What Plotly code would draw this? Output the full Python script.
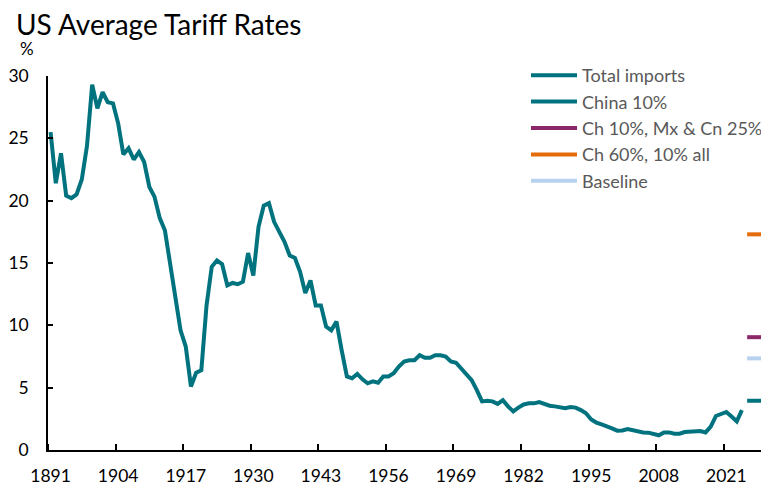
import plotly.graph_objects as go

years = list(range(1891, 2025))
total_imports = [
    25.5, 21.4, 23.8, 20.4, 20.2, 20.5, 21.7, 24.4, 29.3, 27.4,   # 1891-1900
    28.7, 27.9, 27.8, 26.2, 23.7, 24.2, 23.3, 23.9, 23.1, 21.1,   # 1901-1910
    20.3, 18.6, 17.6, 14.9, 12.5, 9.6, 8.3, 5.1, 6.2, 6.4,        # 1911-1920
    11.6, 14.7, 15.2, 14.9, 13.2, 13.4, 13.3, 13.5, 15.8, 14.0,   # 1921-1930
    17.9, 19.6, 19.8, 18.3, 17.5, 16.7, 15.6, 15.4, 14.3, 12.6,   # 1931-1940
    13.6, 11.6, 11.6, 9.9, 9.6, 10.3, 8.0, 5.9, 5.75, 6.1,        # 1941-1950
    5.67, 5.35, 5.5, 5.4, 5.9, 5.9, 6.15, 6.7, 7.1, 7.2,          # 1951-1960
    7.2, 7.6, 7.4, 7.4, 7.6, 7.6, 7.5, 7.1, 7.0, 6.5,             # 1961-1970
    6.0, 5.6, 4.8, 3.9, 3.95, 3.9, 3.7, 4.0, 3.5, 3.1,            # 1971-1980
    3.4, 3.65, 3.74, 3.74, 3.85, 3.7, 3.55, 3.5, 3.45, 3.35,      # 1981-1990
    3.45, 3.4, 3.2, 2.95, 2.45, 2.2, 2.05, 1.92, 1.74, 1.55,      # 1991-2000
    1.57, 1.68, 1.57, 1.47, 1.41, 1.39, 1.28, 1.18, 1.41, 1.41,   # 2001-2010
    1.31, 1.31, 1.44, 1.47, 1.55, 1.52, 1.41, 1.87, 2.73, 2.86,   # 2011-2020
    3.05, 2.68, 2.3, 3.2,                                         # 2021-2024
]

scenario_years = [2025, 2026, 2027, 2028, 2029, 2030]
china_10 = [3.95, 3.95, 3.95, 3.95, 3.95, 3.95]
ch10_mx_cn25 = [9.05, 9.05, 9.05, 9.05, 9.05, 9.05]
ch60_all10 = [17.3, 17.3, 17.3, 17.3, 17.3, 17.3]
baseline = [7.35, 7.35, 7.35, 7.35, 7.35, 7.35]

tick_years = [1891, 1904, 1917, 1930, 1943, 1956, 1969, 1982, 1995, 2008, 2021]
tick_labels = [str(y) for y in tick_years]
y_ticks = [0, 5, 10, 15, 20, 25, 30]

TEAL = "#00737F"
PURPLE = "#8A2868"
ORANGE = "#E46C0A"
LIGHTBLUE = "#B6D2EE"
FONT = "Lato"

# The page body has an 8px margin, so the figure is laid out in (page - 8) pixel coordinates.
W, H = 761, 477
ML, MT, MB = 40, 68, 35
PH = H - MT - MB  # plot height in px


def py(fig_px):
    """paper y for a figure pixel row (from top)."""
    return 1 - (fig_px - MT) / PH


def px(fig_px):
    return (fig_px - ML) / (W - ML)


fig = go.Figure()
fig.add_trace(go.Scatter(x=years, y=total_imports, mode="lines", name="Total imports",
                         line=dict(color=TEAL, width=4), legendgroup="a"))
fig.add_trace(go.Scatter(x=scenario_years, y=china_10, mode="lines", name="China 10%",
                         line=dict(color=TEAL, width=4), legendgroup="b"))
fig.add_trace(go.Scatter(x=scenario_years, y=ch10_mx_cn25, mode="lines", name="Ch 10%, Mx &amp; Cn 25%",
                         line=dict(color=PURPLE, width=4), legendgroup="c"))
fig.add_trace(go.Scatter(x=scenario_years, y=ch60_all10, mode="lines", name="Ch 60%, 10% all",
                         line=dict(color=ORANGE, width=4), legendgroup="d"))
fig.add_trace(go.Scatter(x=scenario_years, y=baseline, mode="lines", name="Baseline",
                         line=dict(color=LIGHTBLUE, width=4), legendgroup="e"))

boundaries = [y - 0.5 for y in tick_years]

fig.update_layout(
    width=W, height=H,
    margin=dict(l=ML, r=0, t=MT, b=MB, autoexpand=False),
    paper_bgcolor="white", plot_bgcolor="white",
    font=dict(family=FONT, color="#000000", size=17),
    showlegend=True,
    legend=dict(x=px(518), xanchor="left", y=py(49), yanchor="top",
                font=dict(family=FONT, size=18, color="#595959"),
                bgcolor="rgba(0,0,0,0)", tracegroupgap=4, itemwidth=46,
                traceorder="normal"),
    xaxis=dict(range=[1890.5, 1890.5 + (W - ML) / 5.198], tickmode="array", tickvals=tick_years,
               ticktext=tick_labels, ticks="", showline=True, linecolor="#000000", linewidth=1.5,
               showgrid=False, zeroline=False, tickfont=dict(size=17.5, color="#000000"),
               ticklabelstandoff=9, automargin=False,
               minor=dict(tickmode="array", tickvals=boundaries, ticks="inside", ticklen=6,
                          tickwidth=1.5, tickcolor="#000000", showgrid=False)),
    yaxis=dict(range=[0, 30], tickmode="array", tickvals=y_ticks, ticks="inside", ticklen=5,
               tickwidth=1.5, tickcolor="#000000", showline=True, linecolor="#000000",
               linewidth=1.5, showgrid=False, zeroline=False, automargin=False,
               tickfont=dict(size=17.5, color="#000000"), ticklabelstandoff=14),
    annotations=[
        dict(text="US Average Tariff Rates", xref="paper", yref="paper", x=px(6), y=py(-3),
             xanchor="left", yanchor="top", showarrow=False,
             font=dict(family=FONT, size=28, color="#000000")),
        dict(text="%", xref="paper", yref="paper", x=px(10), y=py(28),
             xanchor="left", yanchor="top", showarrow=False,
             font=dict(family=FONT, size=17, color="#000000")),
    ],
)

fig.write_html("out.html")
